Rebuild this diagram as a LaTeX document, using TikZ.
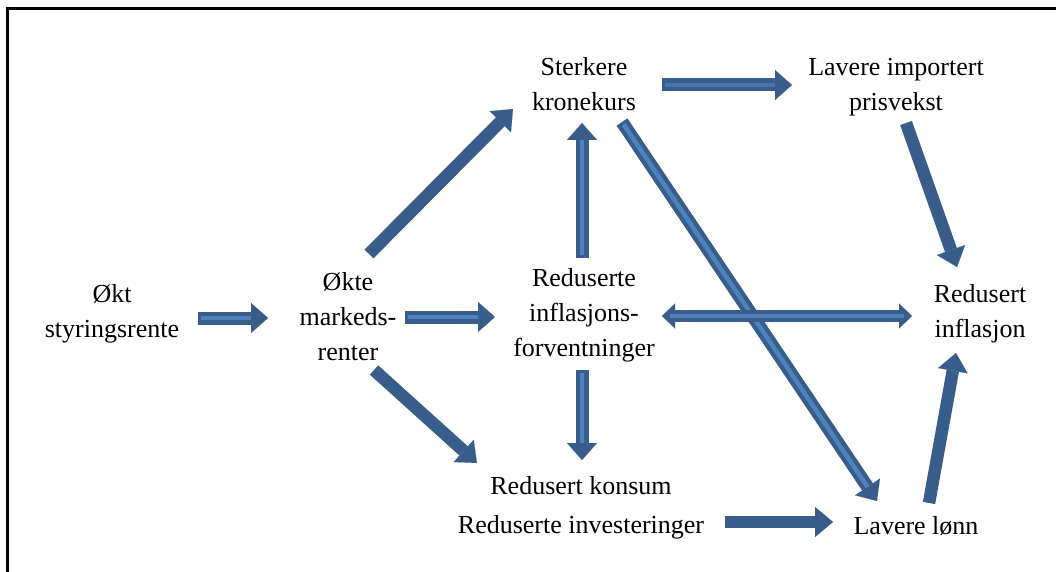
\documentclass[tikz,border=0pt]{standalone}
\usepackage{fontspec}
\setmainfont{Liberation Serif}
\usetikzlibrary{arrows.meta}
\definecolor{dk}{HTML}{385D8A}
\definecolor{lt}{HTML}{4F81BD}
\tikzset{
  lbl/.style={align=center, inner sep=0pt, font=\fontsize{26}{35}\selectfont},
  solidarr/.style={draw=dk, line width=12.5pt, -{Triangle[length=18pt,width=30pt,line width=0.1pt]}},
  blockarr/.style={draw=dk, line width=13pt, -{Triangle[length=17pt,width=30pt,line width=0.1pt]}},
  twoarr/.style={draw=dk, line width=12pt, {Triangle[length=13pt,width=25pt,line width=0.1pt]}-{Triangle[length=13pt,width=25pt,line width=0.1pt]}},
  stripe/.style={draw=lt, line width=4.5pt, shorten <=3pt, shorten >=17pt},
  stripetwo/.style={draw=lt, line width=4pt, shorten <=8pt, shorten >=8pt},
}
\begin{document}
\begin{tikzpicture}[x=1pt, y=-1pt]
\useasboundingbox (0,0) rectangle (1056,572);
\draw[line width=2.5pt] (7.5,590) -- (7.5,8.5) -- (1080,8.5);

% nodes
\node[lbl] (okt)   at (112,314) {Økt\\styringsrente};
\node[lbl] (okte)  at (348,317) {Økte\\markeds-\\renter};
\node[lbl] (sterk) at (584,84)  {Sterkere\\kronekurs};
\node[lbl] (imp)   at (896,87)  {Lavere importert\\prisvekst};
\node[lbl] (forv)  at (584,315) {Reduserte\\inflasjons-\\forventninger};
\node[lbl] (infl)  at (980,314) {Redusert\\inflasjon};
\node[lbl, font=\fontsize{26}{39}\selectfont] (kons) at (581,508) {Redusert konsum\\Reduserte investeringer};
\node[lbl] (lonn)  at (916,526) {Lavere lønn};

% arrow end points
\coordinate (a1s) at (198,318); \coordinate (a1e) at (268,318);
\coordinate (a2s) at (405,317); \coordinate (a2e) at (495,317);
\coordinate (a3s) at (369,254); \coordinate (a3e) at (513,109);
\coordinate (a4s) at (374,370); \coordinate (a4e) at (477,463);
\coordinate (a5s) at (582,258); \coordinate (a5e) at (582,123);
\coordinate (a6s) at (582,370); \coordinate (a6e) at (582,460);
\coordinate (a7s) at (662,85);  \coordinate (a7e) at (792,85);
\coordinate (a8s) at (662,316); \coordinate (a8e) at (912,316);
\coordinate (a9s) at (622,122); \coordinate (a9e) at (877,501);
\coordinate (a10s) at (906,123); \coordinate (a10e) at (957,267);
\coordinate (a11s) at (725,522); \coordinate (a11e) at (833,522);
\coordinate (a12s) at (929,503); \coordinate (a12e) at (956,353);

% solid arrows
\draw[solidarr] (a3s) -- (a3e);
\draw[solidarr] (a4s) -- (a4e);
\draw[solidarr] (a10s) -- (a10e);
\draw[solidarr] (a11s) -- (a11e);
\draw[solidarr] (a12s) -- (a12e);

% block arrows
\draw[blockarr] (a9s) -- (a9e); \draw[stripe] (a9s) -- (a9e);
\draw[blockarr] (a1s) -- (a1e); \draw[stripe] (a1s) -- (a1e);
\draw[blockarr] (a2s) -- (a2e); \draw[stripe] (a2s) -- (a2e);
\draw[blockarr] (a5s) -- (a5e); \draw[stripe] (a5s) -- (a5e);
\draw[blockarr] (a6s) -- (a6e); \draw[stripe] (a6s) -- (a6e);
\draw[blockarr] (a7s) -- (a7e); \draw[stripe, draw=lt!60!dk] (a7s) -- (a7e);
\draw[twoarr] (a8s) -- (a8e); \draw[stripetwo] (a8s) -- (a8e);
\end{tikzpicture}
\end{document}
